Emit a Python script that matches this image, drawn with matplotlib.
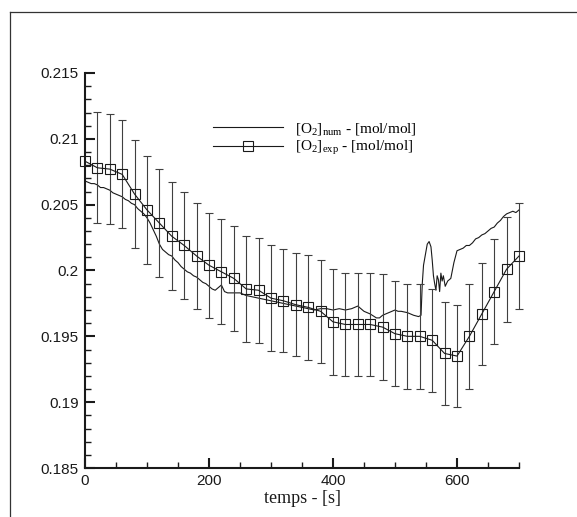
import matplotlib
matplotlib.use("Agg")
import matplotlib.pyplot as plt
from matplotlib.lines import Line2D
from matplotlib.ticker import MultipleLocator
import numpy as np

# ---- data ----
exp_t = [0, 20, 40, 60, 80, 100, 120, 140, 160, 180, 200, 220, 240, 260, 280,
         300, 320, 340, 360, 380, 400, 420, 440, 460, 480, 500, 520, 540, 560,
         580, 600, 620, 640, 660, 680, 700]
exp_v = [0.2083, 0.2078, 0.2077, 0.2073, 0.2058, 0.2046, 0.2036, 0.2026, 0.2019,
         0.2011, 0.2004, 0.1999, 0.1994, 0.1986, 0.1985, 0.1979, 0.1977, 0.1974,
         0.1972, 0.1969, 0.1961, 0.1959, 0.1959, 0.1959, 0.1957, 0.1952, 0.1950,
         0.1950, 0.1947, 0.1937, 0.1935, 0.1950, 0.1967, 0.1984, 0.2001, 0.2011]
exp_err = [0.0, 0.0042, 0.0042, 0.0041, 0.0041, 0.0041, 0.0041, 0.0041, 0.0041,
           0.0040, 0.0040, 0.0040, 0.0040, 0.0040, 0.0040, 0.0040, 0.0039, 0.0039,
           0.0040, 0.0039, 0.0040, 0.0039, 0.0039, 0.0039, 0.0040, 0.0040, 0.0040,
           0.0040, 0.0039, 0.0039, 0.0039, 0.0040, 0.0039, 0.0040, 0.0040, 0.0040]

num_t = [0, 5, 10, 15, 20, 25, 30, 35, 40, 45, 50, 55, 60, 65, 70, 75, 80, 85, 90,
         95, 100, 105, 110, 115, 120, 125, 130, 135, 140, 145, 150, 155, 160, 165,
         170, 175, 180, 185, 190, 195, 200, 205, 210, 215, 220, 225, 230, 240, 250,
         260, 270, 280, 290, 300, 310, 320, 330, 340, 350, 360, 370, 380, 390, 400,
         410, 420, 430, 440, 445, 450, 460, 470, 475, 480, 490, 500, 505, 510, 520,
         530, 538, 542, 544, 546, 549, 552, 555, 558, 560, 562, 564, 566, 568, 570,
         572, 574, 576, 578, 581, 585, 590, 595, 600, 605, 610, 615, 620, 625, 630,
         635, 640, 645, 650, 655, 660, 665, 670, 675, 680, 685, 690, 695, 700]
num_v = [0.2068, 0.2067, 0.2066, 0.2066, 0.2065, 0.2063, 0.2063, 0.2062, 0.2061,
         0.2059, 0.2058, 0.2057, 0.2056, 0.2054, 0.2053, 0.2051, 0.2050, 0.2047,
         0.2045, 0.2043, 0.2040, 0.2036, 0.2031, 0.2026, 0.2020, 0.2016, 0.2014,
         0.2012, 0.2011, 0.2008, 0.2006, 0.2003, 0.2001, 0.1999, 0.1998, 0.1996,
         0.1995, 0.1993, 0.1991, 0.1990, 0.1988, 0.1986, 0.1985, 0.1987, 0.1989,
         0.1984, 0.1983, 0.1983, 0.1983, 0.1981, 0.1980, 0.1979, 0.1978, 0.1977,
         0.1976, 0.1975, 0.1974, 0.1973, 0.1972, 0.1971, 0.1970, 0.1971, 0.1971,
         0.1970, 0.1971, 0.1970, 0.1971, 0.1973, 0.1971, 0.1969, 0.1967, 0.1964,
         0.1964, 0.1966, 0.1968, 0.1970, 0.1969, 0.1969, 0.1968, 0.1966, 0.1965,
         0.1966, 0.1990, 0.2004, 0.2012, 0.2020, 0.2022, 0.2018, 0.2008, 0.1996,
         0.1990, 0.1985, 0.1996, 0.1993, 0.1984, 0.1998, 0.1992, 0.1996, 0.1988,
         0.1992, 0.1994, 0.2006, 0.2015, 0.2016, 0.2017, 0.2019, 0.2019, 0.2021,
         0.2024, 0.2025, 0.2027, 0.2028, 0.2030, 0.2032, 0.2033, 0.2036, 0.2038,
         0.2041, 0.2043, 0.2044, 0.2045, 0.2044, 0.2046]

x_ticks = [0, 200, 400, 600]
y_ticks = [0.185, 0.19, 0.195, 0.2, 0.205, 0.21, 0.215]
y_tick_labels = ["0.185", "0.19", "0.195", "0.2", "0.205", "0.21", "0.215"]

label_num = r"[O$_2$]$_{\mathrm{num}}$ - [mol/mol]"
label_exp = r"[O$_2$]$_{\mathrm{exp}}$ - [mol/mol]"
xlabel = "temps - [s]"

# ---- style ----
plt.rcParams["mathtext.fontset"] = "custom"
plt.rcParams["mathtext.rm"] = "Liberation Serif"
plt.rcParams["mathtext.it"] = "Liberation Serif:italic"
plt.rcParams["mathtext.bf"] = "Liberation Serif:bold"

W, H = 577, 517
fig = plt.figure(figsize=(W / 100, H / 100), dpi=100)
ax = fig.add_axes([85 / W, 1 - 468 / H, (519 - 85) / W, (468 - 73) / H])

# figure border (top and left)
fig.add_artist(Line2D([9.5 / W, 9.5 / W], [0, 1 - 11.5 / H], transform=fig.transFigure,
                      color="#333333", lw=0.9))
fig.add_artist(Line2D([9.5 / W, 1], [1 - 11.5 / H, 1 - 11.5 / H], transform=fig.transFigure,
                      color="#333333", lw=0.9))

ax.plot(num_t, num_v, color="#1a1a1a", lw=0.8, label=label_num)
eb = ax.errorbar(exp_t[1:], exp_v[1:], yerr=exp_err[1:], fmt="none", ecolor="#404040",
                 elinewidth=0.8, capsize=3, capthick=0.8)
for art in eb.lines[1] + eb.lines[2]:
    art.set_clip_on(False)
ax.plot(exp_t, exp_v, color="#1a1a1a", lw=0.8, marker="s", ms=6.5, mfc="none",
        mec="#1a1a1a", mew=0.8, label=label_exp, clip_on=False)

ax.set_xlim(0, 700)
ax.set_ylim(0.185, 0.215)
ax.set_xticks(x_ticks)
ax.xaxis.set_minor_locator(MultipleLocator(50))
ax.set_yticks(y_ticks)
ax.set_yticklabels(y_tick_labels)
ax.yaxis.set_minor_locator(MultipleLocator(0.001))

for s in ["top", "right"]:
    ax.spines[s].set_visible(False)
for s in ["left", "bottom"]:
    ax.spines[s].set_linewidth(1.5)
    ax.spines[s].set_color("#1a1a1a")

ax.tick_params(which="major", direction="in", length=7, width=1.5, color="#1a1a1a",
               labelsize=11, pad=4.5)
ax.tick_params(which="minor", direction="in", length=4.3, width=1.0, color="#1a1a1a")
for lab in ax.get_xticklabels() + ax.get_yticklabels():
    lab.set_fontfamily("Liberation Sans")
    lab.set_color("#1a1a1a")

ax.set_xlabel(xlabel, fontfamily="Liberation Serif", fontsize=13, labelpad=1,
              color="#1a1a1a")

leg = ax.legend(loc="upper left", bbox_to_anchor=((213 - 85) / 434 - 0.008, 1 - (118 - 73) / 395),
                frameon=False, prop={"family": "Liberation Serif", "size": 11},
                handlelength=4.6, handletextpad=0.8, labelspacing=0.15, borderpad=0.2,
                borderaxespad=0)

fig.savefig("out.png", dpi=100)
